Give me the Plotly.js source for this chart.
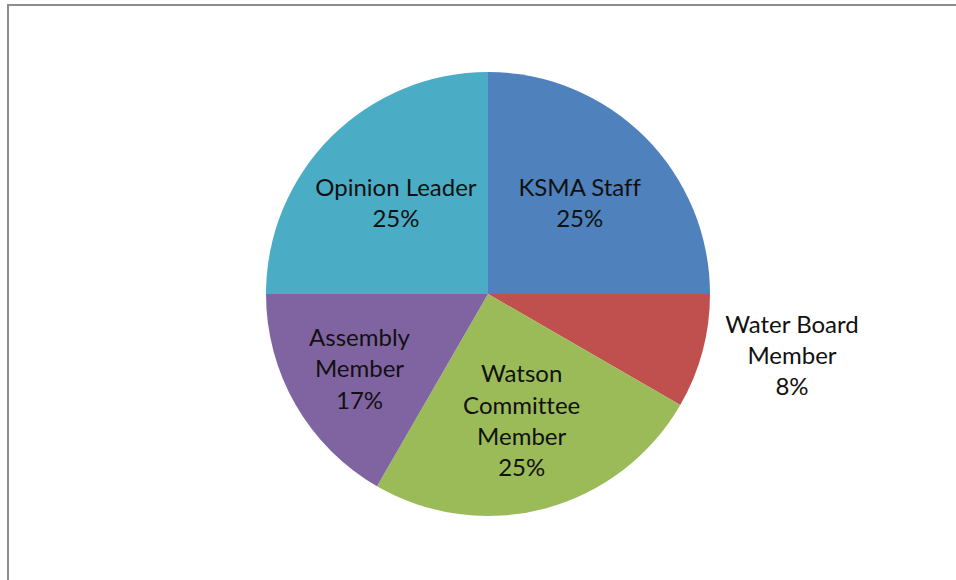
<!DOCTYPE html>
<html>
<head>
<meta charset="utf-8">
<script src="https://cdn.plot.ly/plotly-3.0.1.min.js"></script>
<style>
  html, body { margin: 0; padding: 0; background: #fff; }
  #wrap { position: relative; width: 956px; height: 580px; overflow: hidden; }
  #frame { position: absolute; left: 7px; top: 4px; width: 1000px; height: 640px; border: 2px solid #8c8c8c; box-sizing: border-box; pointer-events: none; }
  #chart { position: absolute; left: 0; top: 0; width: 956px; height: 580px; }
  svg text { font-variant-ligatures: none; font-feature-settings: "liga" 0, "clig" 0; }
</style>
</head>
<body>
<div id="wrap">
  <div id="chart"></div>
  <div id="frame"></div>
</div>
<script>
const categories = ['KSMA Staff', 'Water Board Member', 'Watson Committee Member', 'Assembly Member', 'Opinion Leader'];
const displayLabels = ['KSMA Staff', 'Water Board<br>Member', 'Watson<br>Committee<br>Member', 'Assembly<br>Member', 'Opinion Leader'];
const values = [3, 1, 3, 2, 3];
const colors = ['#4F81BD', '#C0504D', '#9BBB59', '#8064A2', '#4BACC6'];
const textPositions = ['inside', 'outside', 'inside', 'inside', 'inside'];

const W = 956, H = 580;
const cx = 488, cy = 294, r = 222;

const trace = {
  type: 'pie',
  labels: categories,
  values: values,
  text: displayLabels,
  texttemplate: '%{text}<br>%{percent:.0%}',
  textposition: textPositions,
  insidetextorientation: 'horizontal',
  sort: false,
  direction: 'clockwise',
  rotation: 0,
  marker: { colors: colors, line: { width: 0 } },
  textfont: { family: 'Lato, "Liberation Sans", sans-serif', size: 24, color: '#111' },
  outsidetextfont: { family: 'Lato, "Liberation Sans", sans-serif', size: 24, color: '#111' },
  hoverinfo: 'label+percent',
  domain: { x: [(cx - r) / W, (cx + r) / W], y: [1 - (cy + r) / H, 1 - (cy - r) / H] },
  automargin: false
};

const layout = {
  width: W, height: H,
  margin: { l: 0, r: 0, t: 0, b: 0 },
  showlegend: false,
  paper_bgcolor: '#ffffff',
  plot_bgcolor: '#ffffff'
};

Plotly.newPlot('chart', [trace], layout, { displayModeBar: false, staticPlot: true });
</script>
</body>
</html>
